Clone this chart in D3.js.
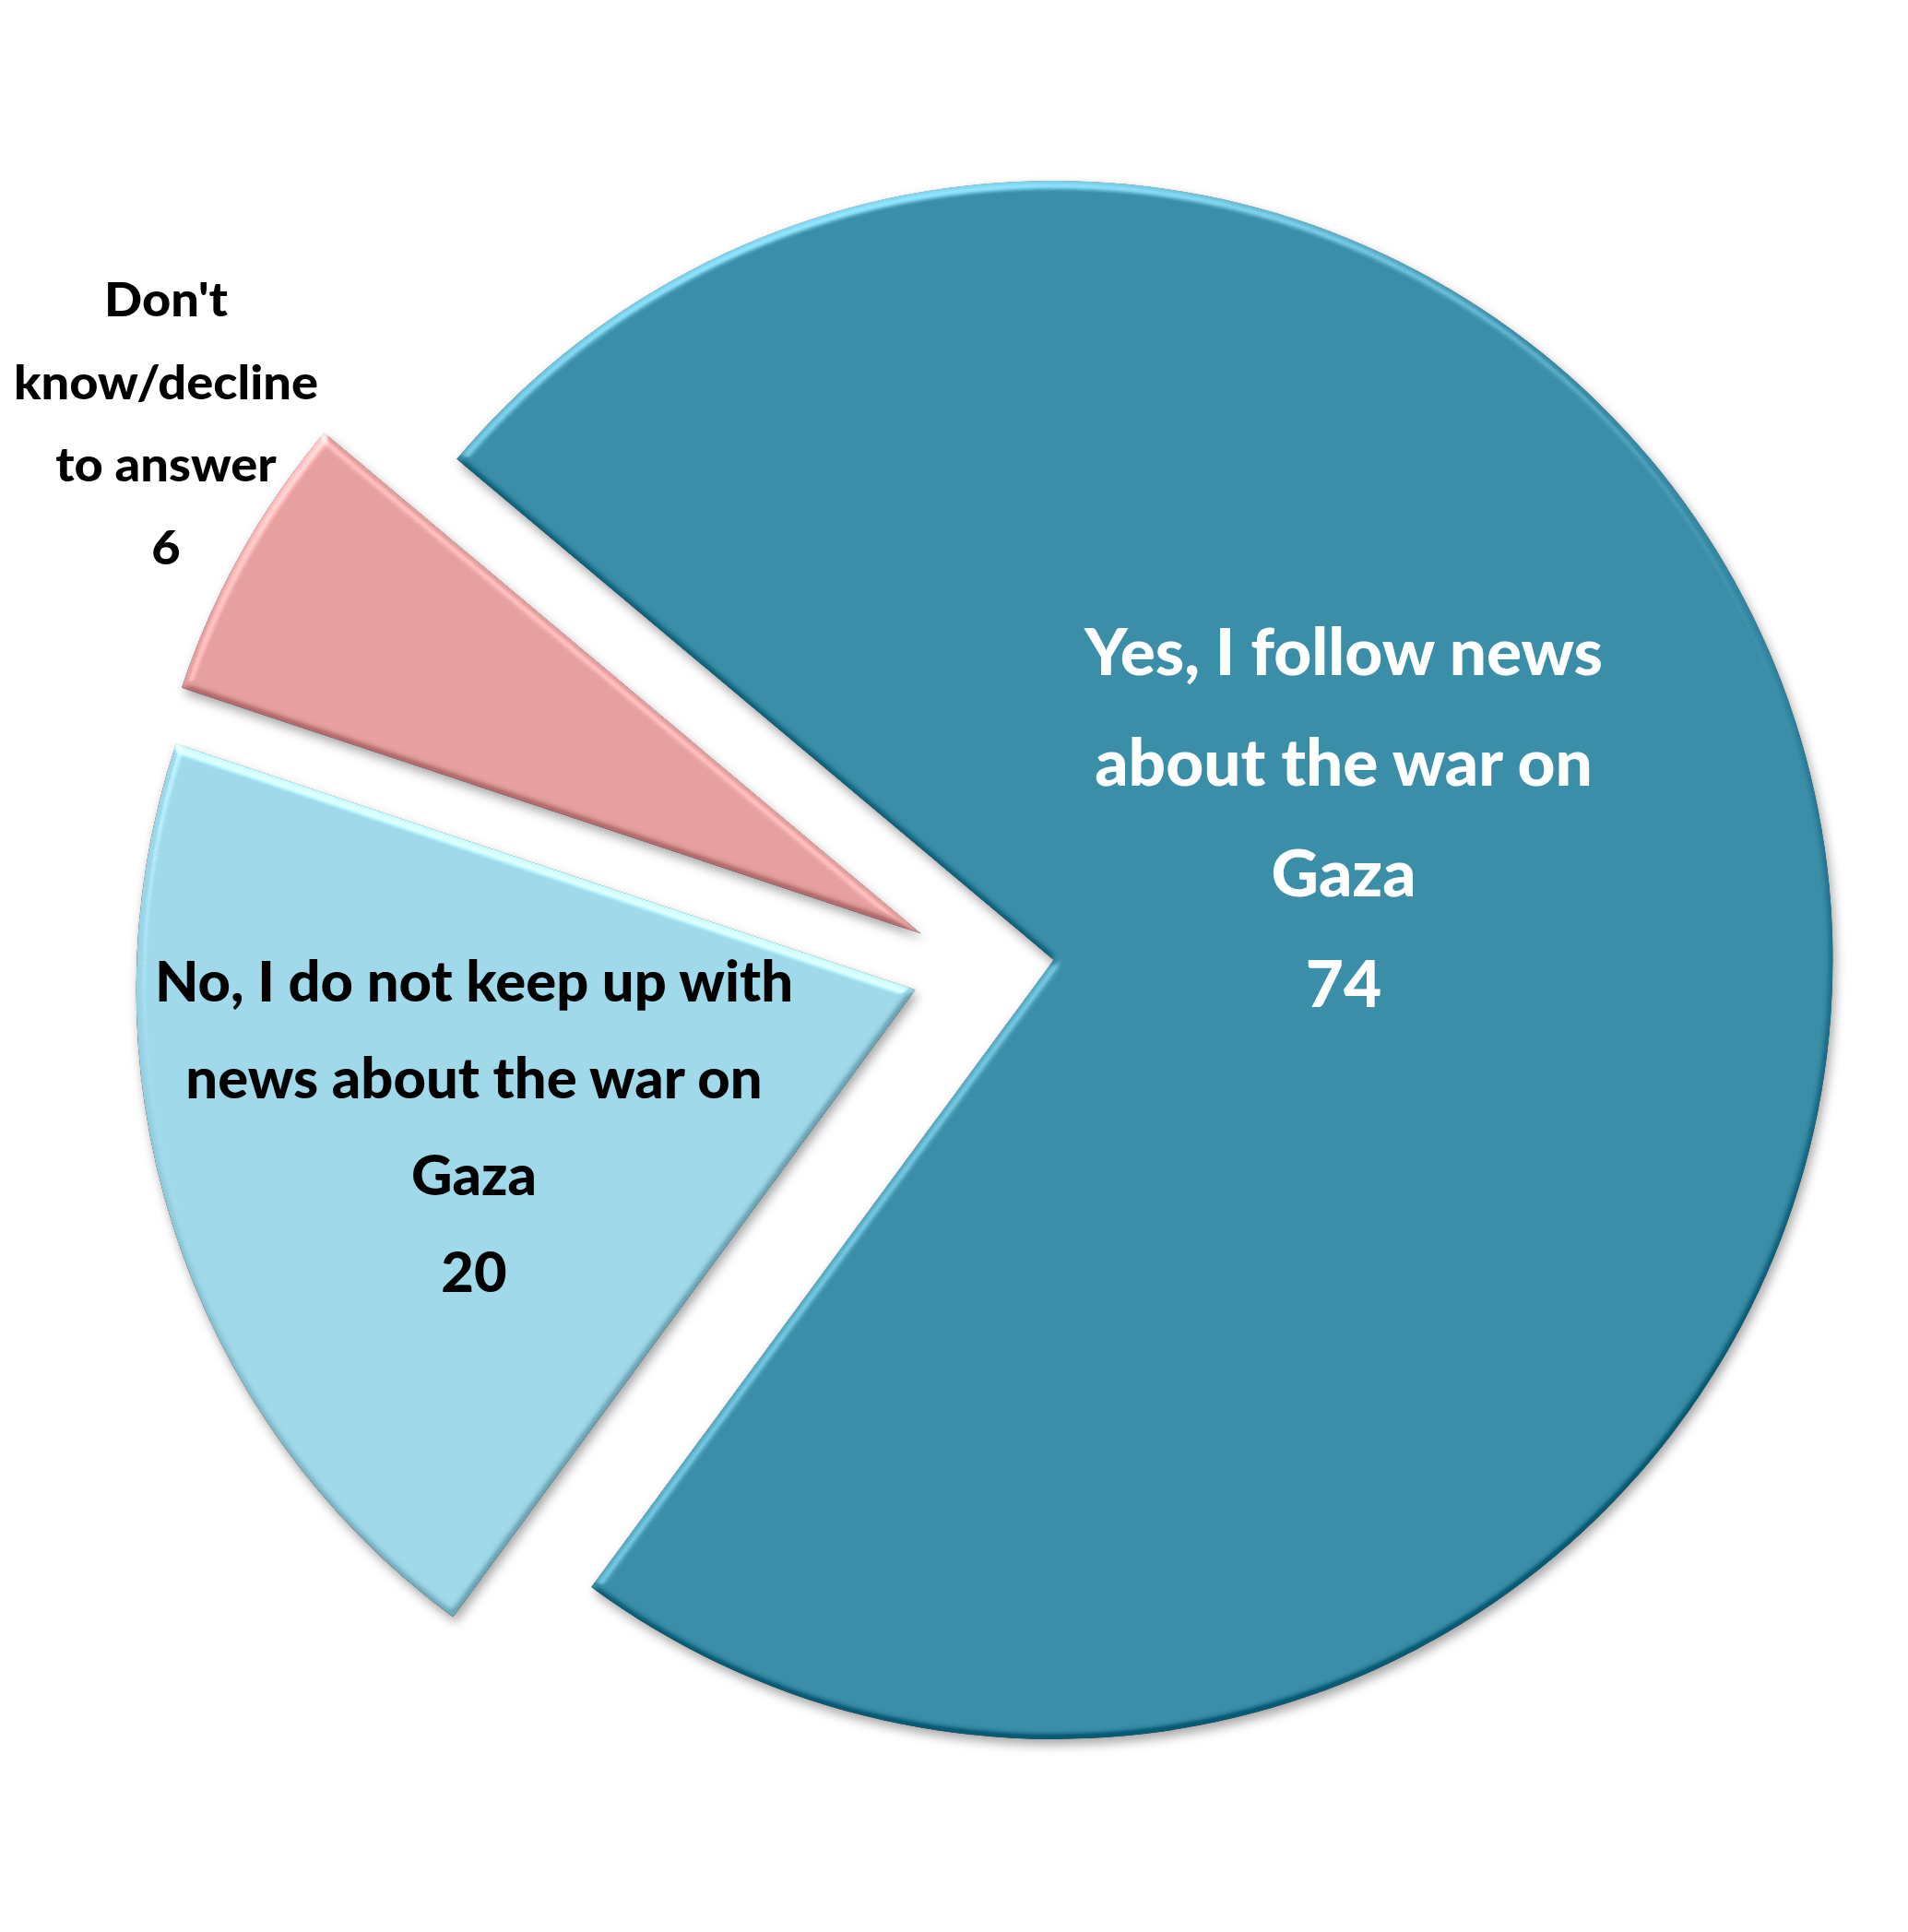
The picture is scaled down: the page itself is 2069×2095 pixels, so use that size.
<!DOCTYPE html>
<html>
<head>
<meta charset="utf-8">
<script src="https://cdn.jsdelivr.net/npm/d3@7"></script>
<style>
  html, body { margin: 0; padding: 0; background: #ffffff; }
  svg { display: block; }
</style>
</head>
<body>
<script>
// ---------------- DATA ----------------
const categories = [
  "Yes, I follow news about the war on Gaza",
  "No, I do not keep up with news about the war on Gaza",
  "Don't know/decline to answer"
];
const values = [74, 20, 6];
// wrapped label lines for each category (value is appended as last line)
const categoryLines = [
  ["Yes, I follow news", "about the war on", "Gaza"],
  ["No, I do not keep up with", "news about the war on", "Gaza"],
  ["Don't", "know/decline", "to answer"]
];

// ---------------- STYLE / LAYOUT ----------------
const W = 2069, H = 2095;
const cx = 1066, cy = 1050, R = 845, explode = 77;
const startDeg = -50;
const sliceColors = ["#3a8ea8", "#a0d9e9", "#e5a09f"];
const textColors = ["#ffffff", "#000000", "#000000"];
const labelLayout = [
  { dx: 391,  dy: -318, size: 70, gap: 120, width: 562 },
  { dx: -552, dy: 36,   size: 61, gap: 105, width: 692 },
  { dx: -886, dy: -707, size: 52, gap: 89.5, width: 330 }
];

const svg = d3.select("body").append("svg")
  .attr("width", W).attr("height", H)
  .attr("viewBox", `0 0 ${W} ${H}`);

svg.append("rect").attr("width", W).attr("height", H).attr("fill", "#ffffff");

const defs = svg.append("defs");
const elev = Math.asin(0.75) * 180 / Math.PI; // flat surface -> 0.75
const f = defs.append("filter").attr("id", "bevel")
  .attr("x", "-6%").attr("y", "-6%").attr("width", "115%").attr("height", "115%")
  .attr("color-interpolation-filters", "sRGB");
f.append("feGaussianBlur").attr("in", "SourceAlpha").attr("stdDeviation", 4).attr("result", "blur");
const dl = f.append("feDiffuseLighting").attr("in", "blur").attr("surfaceScale", 9)
  .attr("diffuseConstant", 1).attr("lighting-color", "#ffffff").attr("result", "light");
dl.append("feDistantLight").attr("azimuth", 255).attr("elevation", elev);
const ct = f.append("feComponentTransfer").attr("in", "light").attr("result", "tone");
["feFuncR", "feFuncG", "feFuncB"].forEach(fn =>
  ct.append(fn).attr("type", "table").attr("tableValues", "0.30 0.39 0.46 0.5 0.84"));
f.append("feComposite").attr("in", "SourceGraphic").attr("in2", "tone")
  .attr("operator", "arithmetic").attr("k1", 0).attr("k2", 1).attr("k3", 1).attr("k4", -0.5)
  .attr("result", "lit");
f.append("feComposite").attr("in", "lit").attr("in2", "SourceAlpha").attr("operator", "in").attr("result", "litIn");
f.append("feGaussianBlur").attr("in", "SourceAlpha").attr("stdDeviation", 6).attr("result", "sblur");
f.append("feOffset").attr("in", "sblur").attr("dx", 3).attr("dy", 6).attr("result", "soff");
f.append("feFlood").attr("flood-color", "#000").attr("flood-opacity", 0.35).attr("result", "sc");
f.append("feComposite").attr("in", "sc").attr("in2", "soff").attr("operator", "in").attr("result", "shadow");
const fm = f.append("feMerge");
fm.append("feMergeNode").attr("in", "shadow");
fm.append("feMergeNode").attr("in", "litIn");

const start = startDeg * Math.PI / 180;
const pie = d3.pie().sort(null).value(d => d)
  .startAngle(start).endAngle(start + 2 * Math.PI);
const arcs = pie(values);
const arc = d3.arc().innerRadius(0).outerRadius(R);

const g = svg.append("g").attr("transform", `translate(${cx},${cy})`);

g.selectAll("path.slice").data(arcs).join("path")
  .attr("class", "slice")
  .attr("d", arc)
  .attr("fill", (d, i) => sliceColors[i])
  .attr("filter", "url(#bevel)")
  .attr("transform", d => {
    const mid = (d.startAngle + d.endAngle) / 2;
    return `translate(${explode * Math.sin(mid)},${-explode * Math.cos(mid)})`;
  });

// labels
arcs.forEach((d, i) => {
  const L = labelLayout[i];
  const lines = categoryLines[i].concat([String(values[i])]);
  const t = g.append("g").attr("class", "label")
    .attr("font-family", "Lato, 'Open Sans', sans-serif")
    .attr("font-weight", 900)
    .attr("font-size", L.size)
    .attr("fill", textColors[i])
    .attr("text-anchor", "middle");
  const texts = t.selectAll("text").data(lines).join("text")
    .attr("x", L.dx)
    .attr("y", (s, j) => L.dy + j * L.gap)
    .text(s => s);
  const nat = texts.nodes().map(n => n.getComputedTextLength());
  const widest = d3.max(nat);
  const k = L.width / widest;
  texts.each(function(s, j) {
    d3.select(this).attr("textLength", nat[j] * k).attr("lengthAdjust", "spacingAndGlyphs");
  });
});
</script>
</body>
</html>
